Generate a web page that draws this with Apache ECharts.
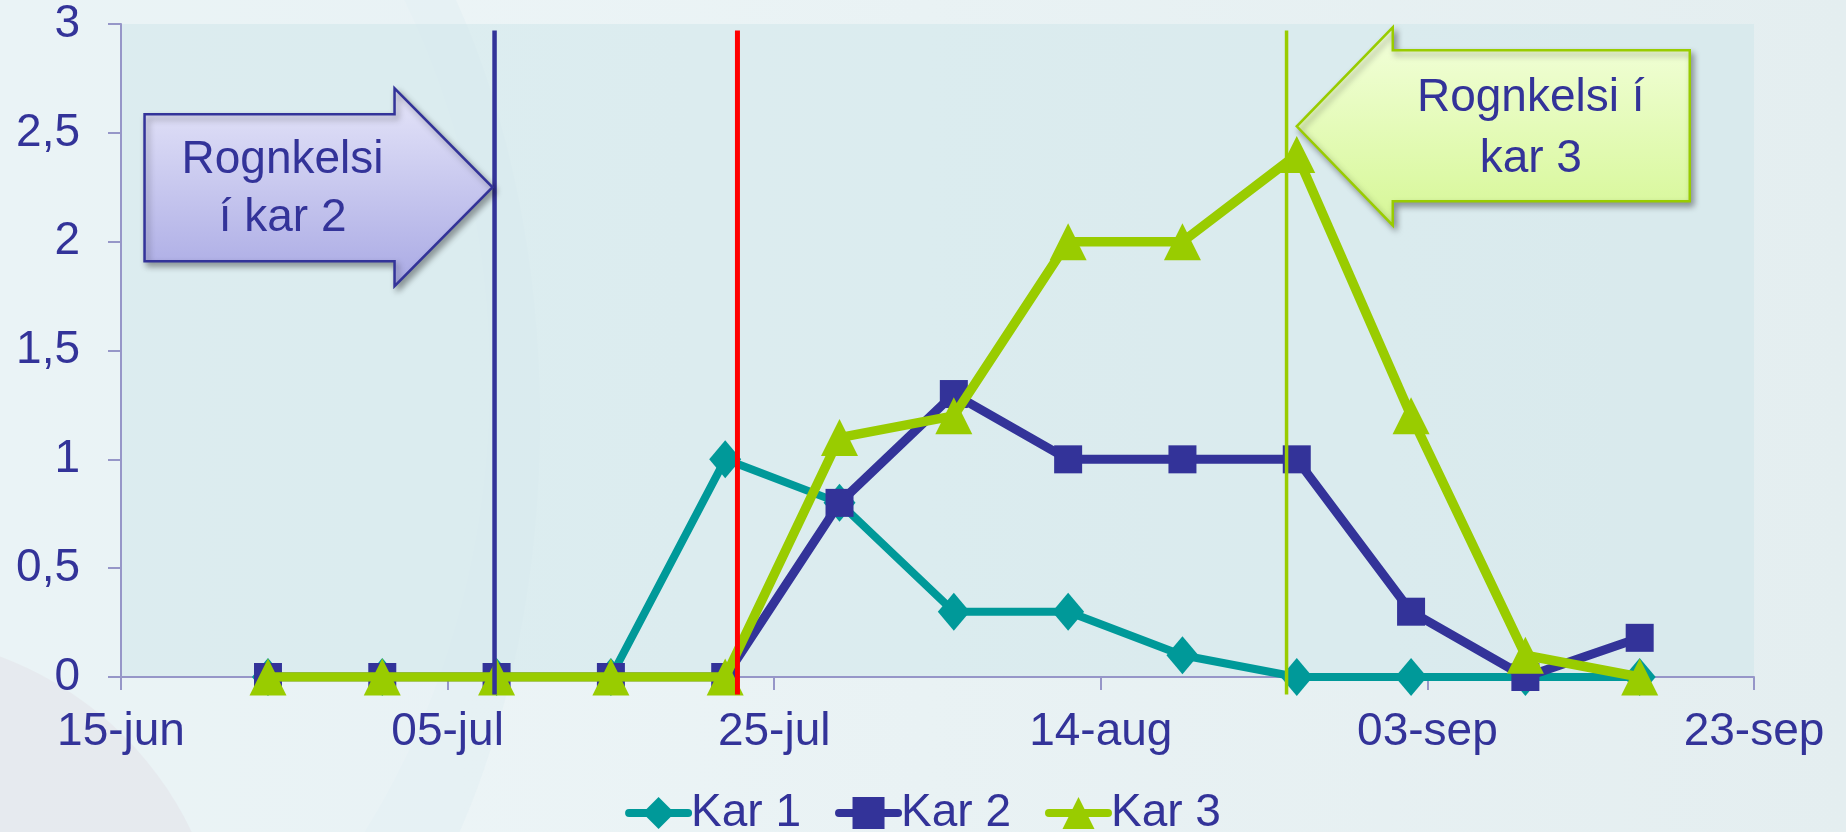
<!DOCTYPE html>
<html>
<head>
<meta charset="utf-8">
<title>Rognkelsi</title>
<script src="https://cdn.jsdelivr.net/npm/echarts@6/dist/echarts.min.js"></script>
<style>
  html, body { margin: 0; padding: 0; background: #e8f1f3; }
  #chart { width: 1846px; height: 832px; }
</style>
</head>
<body>
<div id="chart"></div>
<script>
// weekly samples
var dates = ["2012-06-24", "2012-07-01", "2012-07-08", "2012-07-15", "2012-07-22", "2012-07-29",
  "2012-08-05", "2012-08-12", "2012-08-19", "2012-08-26", "2012-09-02", "2012-09-09", "2012-09-16"];
var kar1 = [0, 0, 0, 0, 1, 0.8, 0.3, 0.3, 0.1, 0, 0, 0, 0];
var kar2 = [0, 0, 0, 0, 0, 0.8, 1.3, 1, 1, 1, 0.3, 0, 0.18];
var kar3 = [0, 0, 0, 0, 0, 1.1, 1.2, 2, 2, 2.4, 1.2, 0.1, 0];

var startDate = "2012-06-15";
var xTickLabels = ["15-jun", "05-jul", "25-jul", "14-aug", "03-sep", "23-sep"];
var yTickLabels = ["0", "0,5", "1", "1,5", "2", "2,5", "3"];

// vertical event lines: fish into kar 2, red marker, fish into kar 3
var eventDates = ["2012-07-07T21:00", "2012-07-22T18:00", "2012-08-25T09:00"];
var calloutText = [["Rognkelsi", "í kar 2"], ["Rognkelsi í", "kar 3"]];

var FONT = '"Liberation Sans", Arial, sans-serif';
var NAVY = "#333399";

function dayOf(s) {
  var full = s.length === 10 ? s + "T00:00Z" : s + "Z";
  return (Date.parse(full) - Date.parse(startDate + "T00:00Z")) / 864e5;
}

function pairs(vals) {
  return vals.map(function (v, i) {
    return [dayOf(dates[i]), v];
  });
}

function eventLine(idx, color, width) {
  var d = dayOf(eventDates[idx]);
  return {
    type: "line",
    data: [[d, -0.08], [d, 2.97]],
    symbol: "none",
    silent: true,
    clip: false,
    z: 10,
    lineStyle: { color: color, width: width },
    animation: false
  };
}

var chart = echarts.init(document.getElementById("chart"));

chart.setOption({
  backgroundColor: new echarts.graphic.LinearGradient(0, 0, 1, 0, [
    { offset: 0, color: "#eef6f8" },
    { offset: 1, color: "#e4eef0" }
  ]),
  animation: false,
  textStyle: { fontFamily: FONT },
  grid: {
    left: 121,
    right: 92,
    top: 24,
    bottom: 155,
    show: true,
    borderWidth: 0,
    backgroundColor: "rgba(206,229,233,0.5)"
  },
  legend: {
    data: ["Kar 1", "Kar 2", "Kar 3"],
    left: "center",
    top: 785,
    itemWidth: 59,
    itemHeight: 40,
    itemGap: 34,
    lineStyle: { width: 8, cap: "round" },
    textStyle: { fontSize: 46, color: NAVY, fontFamily: FONT, padding: [0, 0, 0, -2] }
  },
  xAxis: {
    type: "value",
    min: 0,
    max: 100,
    interval: 20,
    splitLine: { show: false },
    axisLine: { lineStyle: { color: "#9696c8", width: 2 } },
    axisTick: { show: true, length: 13, lineStyle: { color: "#9696c8", width: 2 } },
    axisLabel: {
      margin: 32,
      fontSize: 46,
      color: NAVY,
      fontFamily: FONT,
      formatter: function (v) { return xTickLabels[Math.round(v / 20)]; }
    }
  },
  yAxis: {
    type: "value",
    min: 0,
    max: 3,
    interval: 0.5,
    splitLine: { show: false },
    axisLine: { show: true, lineStyle: { color: "#9696c8", width: 2 } },
    axisTick: { show: true, length: 13, lineStyle: { color: "#9696c8", width: 2 } },
    axisLabel: {
      margin: 41,
      fontSize: 46,
      color: NAVY,
      fontFamily: FONT,
      formatter: function (v) { return yTickLabels[Math.round(v / 0.5)]; }
    }
  },
  series: [
    {
      name: "Kar 1",
      type: "line",
      data: pairs(kar1),
      symbol: "diamond",
      symbolSize: [32, 38],
      color: "#009999",
      lineStyle: { width: 8, cap: "round", join: "round" },
      z: 3
    },
    {
      name: "Kar 2",
      type: "line",
      data: pairs(kar2),
      symbol: "rect",
      symbolSize: 28,
      color: NAVY,
      lineStyle: { width: 9, cap: "round", join: "round" },
      z: 4
    },
    {
      name: "Kar 3",
      type: "line",
      data: pairs(kar3),
      symbol: "triangle",
      symbolSize: 37,
      color: "#99cc00",
      lineStyle: { width: 9.5, cap: "round", join: "round" },
      z: 5
    },
    eventLine(0, NAVY, 4.5),
    eventLine(1, "#ff0000", 5),
    eventLine(2, "#99cc00", 3.5)
  ]
});

// background swirls and the two callout arrows
function drawDecor() {
  var t1 = chart.convertToPixel("grid", [dayOf(eventDates[0]), 2.25]);
  var t2 = chart.convertToPixel("grid", [dayOf(dates[9]), 2.53]);
  t1[0] -= 2;

  var shadow = { shadowBlur: 6, shadowColor: "rgba(0,0,0,0.35)", shadowOffsetX: 3, shadowOffsetY: 4 };

  var arrow1 = {
    type: "polygon",
    z: 20,
    shape: {
      points: [
        [t1[0] - 348, t1[1] - 73], [t1[0] - 98, t1[1] - 73], [t1[0] - 98, t1[1] - 99],
        [t1[0], t1[1]],
        [t1[0] - 98, t1[1] + 99], [t1[0] - 98, t1[1] + 74], [t1[0] - 348, t1[1] + 74]
      ]
    },
    style: Object.assign({
      fill: new echarts.graphic.LinearGradient(0, 0, 0, 1, [
        { offset: 0, color: "#e6e6f9" },
        { offset: 1, color: "#a9a9e4" }
      ]),
      stroke: NAVY,
      lineWidth: 2.5
    }, shadow)
  };

  var arrow2 = {
    type: "polygon",
    z: 20,
    shape: {
      points: [
        [t2[0] + 393, t2[1] - 76], [t2[0] + 96, t2[1] - 76], [t2[0] + 96, t2[1] - 99],
        [t2[0], t2[1]],
        [t2[0] + 96, t2[1] + 99], [t2[0] + 96, t2[1] + 75], [t2[0] + 393, t2[1] + 75]
      ]
    },
    style: Object.assign({
      fill: new echarts.graphic.LinearGradient(0, 0, 0, 1, [
        { offset: 0, color: "#f3ffdc" },
        { offset: 1, color: "#d6f796" }
      ]),
      stroke: "#99cc00",
      lineWidth: 2.5
    }, shadow)
  };

  function label(x, y, s) {
    return {
      type: "text",
      z: 21,
      style: {
        x: x, y: y, text: s,
        font: "46px " + FONT,
        fill: NAVY,
        align: "center",
        verticalAlign: "middle"
      }
    };
  }

  chart.setOption({
    graphic: [
      { type: "circle", z: -10, silent: true, shape: { cx: -120, cy: 980, r: 345 }, style: { fill: "rgba(225,215,220,0.55)" } },
      { type: "ellipse", z: -10, silent: true, shape: { cx: -150, cy: 380, rx: 640, ry: 760 }, style: { fill: "rgba(255,255,255,0.22)" } },
      { type: "ellipse", z: -10, silent: true, shape: { cx: 120, cy: 420, rx: 420, ry: 700 }, style: { fill: "rgba(220,236,242,0.35)" } },
      arrow1,
      arrow2,
      label(t1[0] - 210, t1[1] - 27, calloutText[0][0]),
      label(t1[0] - 210, t1[1] + 31, calloutText[0][1]),
      label(t2[0] + 234, t2[1] - 28, calloutText[1][0]),
      label(t2[0] + 234, t2[1] + 33, calloutText[1][1])
    ]
  });
}

drawDecor();
</script>
</body>
</html>
